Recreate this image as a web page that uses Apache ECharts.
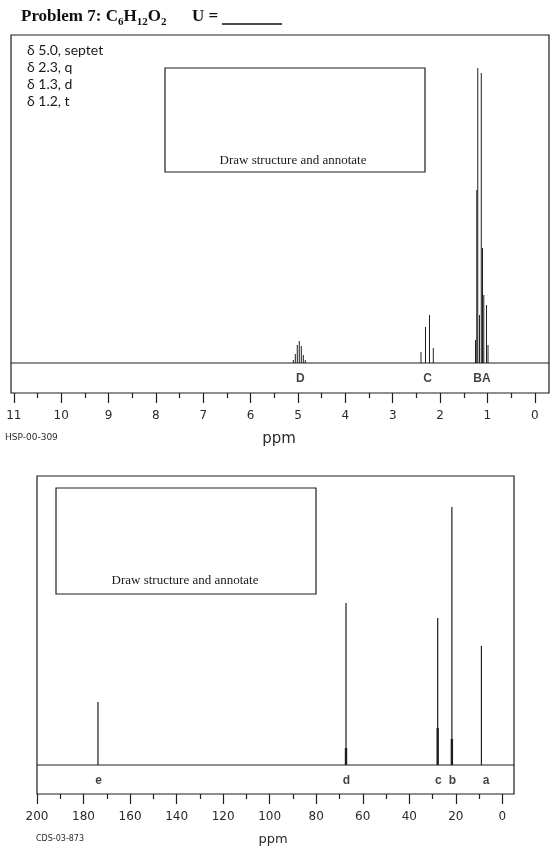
<!DOCTYPE html>
<html><head><meta charset="utf-8">
<script src="https://cdn.jsdelivr.net/npm/echarts@6/dist/echarts.min.js"></script>
<style>html,body{margin:0;padding:0;background:#fff}#c{width:560px;height:848px}</style>
</head><body><div id="c"></div>
<script>
// ---------- 1H NMR (top) ----------
const hMajorTicks = [0,1,2,3,4,5,6,7,8,9,10,11];
const hMinorTicks = [0.5,1.5,2.5,3.5,4.5,5.5,6.5,7.5,8.5,9.5,10.5];
const hPeakPpm    = [5.099,5.057,5.015,4.973,4.930,4.888,4.846,
                     2.403,2.308,2.223,2.143,
                     1.252,1.225,1.204,1.168,1.130,1.104,1.077,1.020,0.988];
const hPeakHeight = [3,9,18,22,17,8,3,
                     11,36,48,15,
                     23,173,295,48,290,115,68,58,18];
const hLabelNames = ['D','C','BA'];
const hLabelPpm   = [4.95,2.266,1.115];
const hNotes = ['δ 5.0, septet','δ 2.3, q','δ 1.3, d','δ 1.2, t'];

// ---------- 13C NMR (bottom) ----------
const cMajorTicks = [0,20,40,60,80,100,120,140,160,180,200];
const cMinorTicks = [10,30,50,70,90,110,130,150,170,190];
const cPeakPpm    = [173.8,67.2,27.8,21.7,9.0];
const cPeakHeight = [63,162,147,258,119];
const cPeakBase   = [0,17,37,26,0];
const cLabelNames = ['e','d','c','b','a'];
const cLabelPpm   = [173.5,67,27.5,21.5,7];

const H_MIN = -0.3, H_MAX = 11.06, C_MIN = -5, C_MAX = 200;
const INK = '#1e1e1e';

function sticks(xi, yi, ppm, h, w) {
  return {
    type: 'custom', xAxisIndex: xi, yAxisIndex: yi, silent: true, animation: false,
    data: ppm.map((p, i) => [p, h[i]]).filter(d => d[1] > 0),
    renderItem: (params, api) => {
      const a = api.coord([api.value(0), 0]);
      const b = api.coord([api.value(0), api.value(1)]);
      return {type: 'line', shape: {x1: a[0], y1: a[1], x2: b[0], y2: b[1]},
              style: {stroke: INK, lineWidth: w}};
    }
  };
}
function baseline(xi, yi, mn, mx) {
  return {type: 'line', xAxisIndex: xi, yAxisIndex: yi, silent: true, animation: false,
    showSymbol: false, data: [[mx, 0], [mn, 0]], lineStyle: {color: INK, width: 1.1}};
}
function labels(xi, yi, ppm, names, y) {
  return {type: 'scatter', xAxisIndex: xi, yAxisIndex: yi, silent: true, animation: false,
    symbolSize: 2, itemStyle: {color: 'rgba(0,0,0,0)'},
    data: ppm.map((p, i) => [p, y, names[i]]),
    label: {show: true, position: 'inside', formatter: p => p.data[2],
            fontFamily: 'Liberation Sans', fontWeight: 'bold', fontSize: 12, color: '#111'}};
}
function majorAxis(gi, mn, mx, ticks) {
  return {type: 'value', gridIndex: gi, position: 'bottom', min: mn, max: mx, inverse: true,
    axisLine: {show: false, onZero: false}, splitLine: {show: false},
    axisTick: {show: true, customValues: ticks, length: 10, lineStyle: {color: INK, width: 1.2}},
    axisLabel: {show: true, customValues: ticks, margin: 17, fontSize: 12,
                fontFamily: 'DejaVu Sans', color: '#2a2a2a'}};
}
function minorAxis(gi, mn, mx, ticks) {
  return {type: 'value', gridIndex: gi, position: 'bottom', min: mn, max: mx, inverse: true,
    axisLine: {show: false, onZero: false}, splitLine: {show: false},
    axisTick: {show: true, customValues: ticks, length: 5, lineStyle: {color: INK, width: 1.2}},
    axisLabel: {show: false}};
}

const chart = echarts.init(document.getElementById('c'), null, {renderer: 'canvas'});
const serif = 'Liberation Serif';
chart.setOption({
  backgroundColor: '#ffffff',
  animation: false,
  grid: [
    {left: 11, right: 11, top: 35, bottom: 455, show: true, borderColor: INK, borderWidth: 1.2, backgroundColor: 'transparent'},
    {left: 37, right: 46, top: 476, bottom: 54, show: true, borderColor: INK, borderWidth: 1.2, backgroundColor: 'transparent'}
  ],
  xAxis: [
    majorAxis(0, H_MIN, H_MAX, hMajorTicks),
    minorAxis(0, H_MIN, H_MAX, hMinorTicks),
    majorAxis(1, C_MIN, C_MAX, cMajorTicks),
    minorAxis(1, C_MIN, C_MAX, cMinorTicks)
  ],
  yAxis: [
    {type: 'value', gridIndex: 0, min: -30, max: 328, show: false},
    {type: 'value', gridIndex: 1, min: -29, max: 289, show: false}
  ],
  series: [
    baseline(0, 0, H_MIN, H_MAX),
    sticks(0, 0, hPeakPpm, hPeakHeight, 1),
    labels(0, 0, hLabelPpm, hLabelNames, -16),
    baseline(2, 1, C_MIN, C_MAX),
    sticks(2, 1, cPeakPpm, cPeakHeight, 1.2),
    sticks(2, 1, cPeakPpm, cPeakBase, 2.4),
    labels(2, 1, cLabelPpm, cLabelNames, -16)
  ],
  graphic: [
    {type: 'text', x: 21, y: 17, style: {
      text: '{b|Problem 7: C}{s|6}{b|H}{s|12}{b|O}{s|2}', verticalAlign: 'middle', align: 'left',
      rich: {
        b: {fontFamily: serif, fontWeight: 'bold', fontSize: 17, lineHeight: 22, fill: '#111'},
        s: {fontFamily: serif, fontWeight: 'bold', fontSize: 11, lineHeight: 12, fill: '#111', verticalAlign: 'bottom'}
      }}},
    {type: 'text', x: 192, y: 17, style: {text: 'U =', font: 'bold 17px "Liberation Serif"', fill: '#111', verticalAlign: 'middle'}},
    {type: 'line', shape: {x1: 222, y1: 24, x2: 282, y2: 24}, style: {stroke: '#111', lineWidth: 1.3}},
    ...hNotes.map((t, i) => ({type: 'text', x: 27, y: 50 + i * 17,
      style: {text: t, font: '14px Lato', fill: '#1a1a1a', verticalAlign: 'middle'}})),
    {type: 'rect', shape: {x: 165, y: 68, width: 260, height: 104}, style: {fill: 'none', stroke: INK, lineWidth: 1.2}},
    {type: 'text', x: 293, y: 161, style: {text: 'Draw structure and annotate', font: '13px "Liberation Serif"', fill: '#1a1a1a', align: 'center', verticalAlign: 'middle'}},
    {type: 'text', x: 279, y: 439, style: {text: 'ppm', font: '15px "DejaVu Sans"', fill: '#2a2a2a', align: 'center', verticalAlign: 'middle'}},
    {type: 'text', x: 5, y: 438, style: {text: 'HSP-00-309', font: '9px "DejaVu Sans"', fill: '#2a2a2a', verticalAlign: 'middle'}},
    {type: 'rect', shape: {x: 56, y: 488, width: 260, height: 106}, style: {fill: 'none', stroke: INK, lineWidth: 1.2}},
    {type: 'text', x: 185, y: 581, style: {text: 'Draw structure and annotate', font: '13px "Liberation Serif"', fill: '#1a1a1a', align: 'center', verticalAlign: 'middle'}},
    {type: 'text', x: 273, y: 840, style: {text: 'ppm', font: '13px "DejaVu Sans"', fill: '#2a2a2a', align: 'center', verticalAlign: 'middle'}},
    {type: 'text', x: 36, y: 839, style: {text: 'CDS-03-873', font: '8px "DejaVu Sans"', fill: '#2a2a2a', verticalAlign: 'middle'}}
  ]
});
</script></body></html>
